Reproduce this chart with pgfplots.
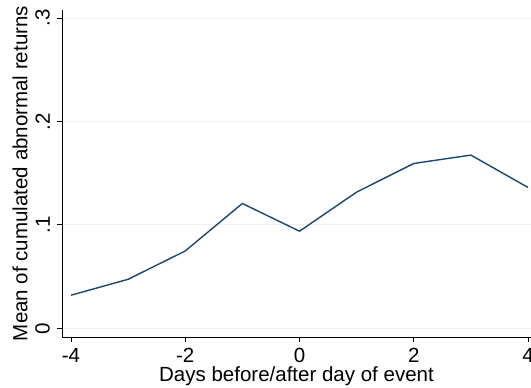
\documentclass[border=0pt]{standalone}
\usepackage{fontspec}
\setmainfont{Liberation Sans}
\usepackage{pgfplots}
\pgfplotsset{compat=1.18}
\definecolor{statanavy}{HTML}{1A476F}
\definecolor{gridcol}{HTML}{EAF2F3}
\begin{document}
\begin{tikzpicture}
\path[use as bounding box] (-62pt,-51pt) rectangle (469pt,337pt);
\begin{axis}[
  at={(0pt,0pt)}, anchor=south west,
  scale only axis, width=469pt, height=327pt,
  xmin=-4.157, xmax=4.052, ymin=-0.0084, ymax=0.3078,
  axis x line*=bottom, axis y line*=left,
  axis line style={black, line width=0.8pt, -},
  xtick={-4,-2,0,2,4}, xticklabels={-4,-2,0,2,4},
  ytick={0,0.1,0.2,0.3}, yticklabels={0,.1,.2,.3},
  tick align=outside, major tick length=5pt,
  tick style={black, line width=0.8pt},
  ymajorgrids, grid style={gridcol, line width=1pt},
  /pgf/number format/assume math mode=true,
  tick label style={font=\fontsize{20.5}{24}\selectfont},
  yticklabel style={rotate=90, anchor=south, inner sep=0pt, yshift=7pt},
  xticklabel style={inner sep=0pt, yshift=-6pt},
  label style={font=\fontsize{20.5}{24}\selectfont},
  xlabel={Days before/after day of event},
  ylabel={Mean of cumulated abnormal returns},
  xlabel style={at={(axis description cs:0.5,0)}, anchor=center, yshift=-39pt},
  ylabel style={at={(axis description cs:-0.0896,0.5)}, anchor=center},
]
\addplot[statanavy, line width=1.4pt] coordinates {
  (-4,0.032) (-3,0.0474) (-2,0.0748) (-1,0.1207) (0,0.0939)
  (1,0.1317) (2,0.1594) (3,0.1675) (4,0.1362)
};
\end{axis}
\end{tikzpicture}
\end{document}
